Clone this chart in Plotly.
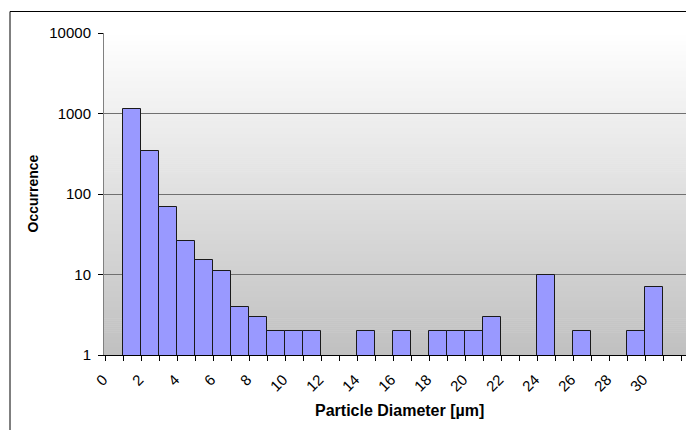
import plotly.graph_objects as go

# Particle size histogram (1 µm bins), log-scaled occurrence
bin_um = [1, 2, 3, 4, 5, 6, 7, 8, 9, 10, 11, 14, 16, 18, 19, 20, 21, 24, 26, 29, 30]
occurrence = [1150, 340, 68, 26, 15, 11, 4, 3, 2, 2, 2, 2, 2, 2, 2, 2, 3, 10, 2, 2, 7]
x_tick_vals = list(range(0, 31, 2))
x_tick_text = [str(v) for v in x_tick_vals]
y_tick_vals = [1, 10, 100, 1000, 10000]

W, H = 686, 430
ML, MR, MT, MB = 104, 0, 33, 75
PW, PH = W - ML - MR, H - MT - MB
BIN_PX = 18.0

FONT = "Liberation Sans, Arial, sans-serif"

fig = go.Figure(
    go.Bar(
        x=bin_um,
        y=occurrence,
        width=1,
        marker=dict(color="#9999FF", line=dict(color="#1a1a1a", width=1)),
        hoverinfo="x+y",
    )
)

# vertical white-to-grey gradient behind the plot area
shapes = []
n_bands = 160
top_c, bot_c = 255, 192
for i in range(n_bands):
    y0 = i / n_bands
    y1 = (i + 1) / n_bands
    t = (i + 0.5) / n_bands
    c = round(bot_c + (top_c - bot_c) * t)
    shapes.append(dict(
        type="rect", xref="paper", yref="paper",
        x0=0, x1=1, y0=y0, y1=y1 + 0.002,
        fillcolor=f"rgb({c},{c},{c})", line=dict(width=0), layer="below",
    ))

# chart frame (left and top edges)
fx = (10 - ML) / PW
fy = 1 + (MT - 11.5) / PH
shapes.append(dict(type="line", xref="paper", yref="paper",
                   x0=fx, x1=fx, y0=fy, y1=-0.3,
                   line=dict(color="#000000", width=1)))
shapes.append(dict(type="line", xref="paper", yref="paper",
                   x0=fx, x1=1.05, y0=fy, y1=fy,
                   line=dict(color="#000000", width=1)))

x_lo = -0.5 - 1.0 / BIN_PX
x_hi = x_lo + PW / BIN_PX

fig.update_layout(
    width=W, height=H,
    margin=dict(l=ML, r=MR, t=MT, b=MB, pad=0),
    paper_bgcolor="#FFFFFF",
    plot_bgcolor="rgba(0,0,0,0)",
    showlegend=False,
    bargap=0,
    font=dict(family=FONT, color="#000000", size=14),
    shapes=shapes,
    xaxis=dict(
        range=[x_lo, x_hi],
        tickmode="array", tickvals=x_tick_vals, ticktext=x_tick_text,
        tickangle=-45, ticks="", showgrid=False, zeroline=False,
        showline=True, linecolor="#000000", linewidth=1,
        tickfont=dict(family=FONT, size=15, color="#000000"),
        minor=dict(ticks="outside", tick0=0.5, dtick=1, ticklen=5,
                   tickcolor="#000000", tickwidth=1, showgrid=False),
        ticklabelstandoff=9,
        ticklabelshift=-11,
    ),
    yaxis=dict(
        type="log", range=[0, 4],
        tickmode="array", tickvals=y_tick_vals,
        ticktext=[str(v) for v in y_tick_vals],
        ticks="outside", ticklen=5, tickcolor="#000000", tickwidth=1,
        showgrid=True, gridcolor="#707070", gridwidth=1,
        showline=True, linecolor="#808080", linewidth=1,
        zeroline=False,
        tickfont=dict(family=FONT, size=15, color="#000000"),
        ticklabelstandoff=4,
    ),
    annotations=[
        dict(text="<b>Occurrence</b>", xref="paper", yref="paper",
             x=(32.5 - ML) / PW, y=0.5, xanchor="center", yanchor="middle",
             textangle=-90, showarrow=False,
             font=dict(family=FONT, size=14, color="#000000")),
        dict(text="<b>Particle Diameter [µm]</b>", xref="paper", yref="paper",
             x=(399 - ML) / PW, y=(MT + PH - 411) / PH,
             xanchor="center", yanchor="middle", showarrow=False,
             font=dict(family=FONT, size=16, color="#000000")),
    ],
)

fig.write_html("out.html", config={"displayModeBar": False})
